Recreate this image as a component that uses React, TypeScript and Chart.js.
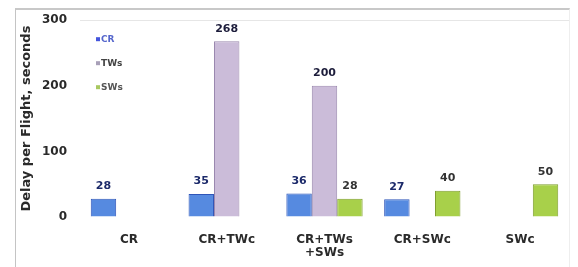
import React, { useEffect, useRef } from "react";
import { Chart, registerables } from "chart.js";

Chart.register(...registerables);

const categories: (string | string[])[] = ["CR", "CR+TWc", ["CR+TWs", "+SWs"], "CR+SWc", "SWc"];
const crValues: (number | null)[] = [28, 35, 36, 27, null];
const twsValues: (number | null)[] = [null, 268, 200, null, null];
const swsValues: (number | null)[] = [null, null, 28, 40, 50];
const seriesNames = ["CR", "TWs", "SWs"];
const yTicks = [0, 100, 200, 300];

const FONT = "'DejaVu Sans', 'Liberation Sans', Arial, sans-serif";

const valueLabels = {
  id: "valueLabels",
  afterDatasetsDraw(chart: any) {
    const ctx = chart.ctx;
    ctx.save();
    ctx.font = `bold 11px ${FONT}`;
    ctx.textAlign = "center";
    ctx.textBaseline = "bottom";
    chart.data.datasets.forEach((ds: any, i: number) => {
      const meta = chart.getDatasetMeta(i);
      meta.data.forEach((bar: any, j: number) => {
        const v = ds.data[j];
        if (v === null || v === undefined) return;
        ctx.fillStyle = ds.labelColor;
        ctx.fillText(String(v), bar.x, bar.y - 7);
      });
    });
    ctx.restore();
  },
};

const innerLegend = {
  id: "innerLegend",
  afterDraw(chart: any) {
    const ctx = chart.ctx;
    const { left, top } = chart.chartArea;
    ctx.save();
    ctx.font = `bold 9px ${FONT}`;
    ctx.textBaseline = "middle";
    ctx.textAlign = "left";
    chart.data.datasets.forEach((ds: any, i: number) => {
      const y = top + 19 + i * 24;
      const x = left + 16;
      ctx.fillStyle = ds.markerColor;
      ctx.fillRect(x, y - 2, 4, 4);
      ctx.fillStyle = ds.legendText;
      ctx.fillText(ds.label, x + 5, y);
    });
    ctx.restore();
  },
};

export default function App() {
  const ref = useRef<HTMLCanvasElement | null>(null);
  useEffect(() => {
    document.body.style.margin = "0";
    const chart = new Chart(ref.current as HTMLCanvasElement, {
      type: "bar",
      data: {
        labels: categories as any,
        datasets: [
          {
            label: seriesNames[0],
            data: crValues,
            backgroundColor: "#568ae0",
            borderColor: "#2f55b8",
            borderWidth: 1,
            labelColor: "#1c2a6a",
            markerColor: "#4455dd",
            legendText: "#5566cc",
          } as any,
          {
            label: seriesNames[1],
            data: twsValues,
            backgroundColor: "#cbbcd9",
            borderColor: "#9a88ae",
            borderWidth: 1,
            labelColor: "#1c1c3a",
            markerColor: "#a8a0b8",
            legendText: "#444444",
          } as any,
          {
            label: seriesNames[2],
            data: swsValues,
            backgroundColor: "#a8d04a",
            borderColor: "#7f9e2e",
            borderWidth: 1,
            labelColor: "#333333",
            markerColor: "#a8c860",
            legendText: "#555555",
          } as any,
        ],
      },
      options: {
        animation: false,
        responsive: false,
        layout: { padding: { top: 18, right: 9, bottom: 0, left: 0 } },
        datasets: { bar: { categoryPercentage: 0.78, barPercentage: 1.0 } },
        plugins: { legend: { display: false }, tooltip: { enabled: false } },
        scales: {
          x: {
            grid: { display: false, drawTicks: false },
            border: { display: false },
            ticks: {
              padding: 17,
              color: "#2a2a2a",
              font: { family: FONT, size: 12, weight: "bold", lineHeight: 1.05 },
              maxRotation: 0,
            },
            afterFit(axis: any) {
              axis.height = 50;
            },
          },
          y: {
            min: 0,
            max: 300,
            afterBuildTicks(axis: any) {
              axis.ticks = yTicks.map((v) => ({ value: v }));
            },
            grid: {
              drawTicks: false,
              color: (c: any) => (c.tick && c.tick.value === 300 ? "#e6e6e6" : "rgba(0,0,0,0)"),
            },
            border: { display: false },
            ticks: {
              padding: 13,
              color: "#2a2a2a",
              font: { family: FONT, size: 12, weight: "bold" },
            },
            title: {
              display: true,
              text: "Delay per Flight, seconds",
              color: "#2a2a2a",
              font: { family: FONT, size: 13, weight: "bold" },
              padding: { top: 19, bottom: 0 },
            },
            afterFit(axis: any) {
              axis.width = 80;
            },
          },
        },
      },
      plugins: [valueLabels, innerLegend],
    });
    return () => chart.destroy();
  }, []);
  return (
    <div style={{ position: "relative", width: 578, height: 267, background: "#fff" }}>
      <div
        style={{
          position: "absolute",
          left: 15,
          top: 8,
          width: 555,
          height: 259,
          borderLeft: "1px solid #c4c4c4",
          borderTop: "2px solid #c8c8c8",
          borderRight: "1px solid #eeeeee",
          boxSizing: "border-box",
        }}
      />
      <canvas ref={ref} width={578} height={267} style={{ position: "absolute", left: 0, top: 0 }} />
    </div>
  );
}
